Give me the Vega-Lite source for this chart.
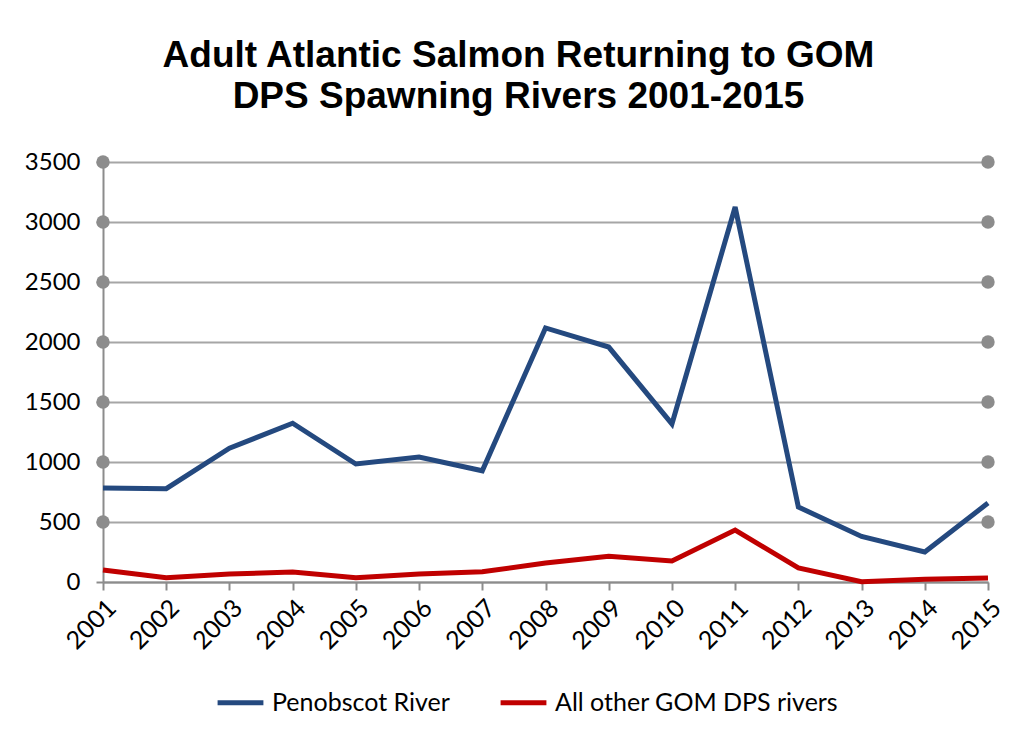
{
  "$schema": "https://vega.github.io/schema/vega-lite/v6.json",
  "autosize": {"type": "none"},
  "width": 885,
  "height": 420,
  "padding": {"left": 103, "top": 162, "right": 27, "bottom": 156},
  "background": "white",
  "config": {
    "view": {"stroke": null},
    "font": "Lato"
  },
  "title": {
    "text": ["Adult Atlantic Salmon Returning to GOM", "DPS Spawning Rivers 2001-2015"],
    "font": "Liberation Sans",
    "fontSize": 37,
    "fontWeight": "bold",
    "color": "#000000",
    "lineHeight": 41,
    "anchor": "middle",
    "dx": -27,
    "offset": 34
  },
  "datasets": {
    "salmon": [
      {"year": 2001, "series": "Penobscot River", "returns": 783},
      {"year": 2002, "series": "Penobscot River", "returns": 778},
      {"year": 2003, "series": "Penobscot River", "returns": 1115},
      {"year": 2004, "series": "Penobscot River", "returns": 1323},
      {"year": 2005, "series": "Penobscot River", "returns": 983},
      {"year": 2006, "series": "Penobscot River", "returns": 1042},
      {"year": 2007, "series": "Penobscot River", "returns": 927},
      {"year": 2008, "series": "Penobscot River", "returns": 2117},
      {"year": 2009, "series": "Penobscot River", "returns": 1958},
      {"year": 2010, "series": "Penobscot River", "returns": 1317},
      {"year": 2011, "series": "Penobscot River", "returns": 3125},
      {"year": 2012, "series": "Penobscot River", "returns": 625},
      {"year": 2013, "series": "Penobscot River", "returns": 380},
      {"year": 2014, "series": "Penobscot River", "returns": 250},
      {"year": 2015, "series": "Penobscot River", "returns": 658},
      {"year": 2001, "series": "All other GOM DPS rivers", "returns": 100},
      {"year": 2002, "series": "All other GOM DPS rivers", "returns": 35},
      {"year": 2003, "series": "All other GOM DPS rivers", "returns": 67},
      {"year": 2004, "series": "All other GOM DPS rivers", "returns": 83},
      {"year": 2005, "series": "All other GOM DPS rivers", "returns": 35},
      {"year": 2006, "series": "All other GOM DPS rivers", "returns": 67},
      {"year": 2007, "series": "All other GOM DPS rivers", "returns": 85},
      {"year": 2008, "series": "All other GOM DPS rivers", "returns": 158},
      {"year": 2009, "series": "All other GOM DPS rivers", "returns": 215},
      {"year": 2010, "series": "All other GOM DPS rivers", "returns": 175},
      {"year": 2011, "series": "All other GOM DPS rivers", "returns": 433},
      {"year": 2012, "series": "All other GOM DPS rivers", "returns": 117},
      {"year": 2013, "series": "All other GOM DPS rivers", "returns": 3},
      {"year": 2014, "series": "All other GOM DPS rivers", "returns": 22},
      {"year": 2015, "series": "All other GOM DPS rivers", "returns": 33}
    ],
    "gridvals": [
      {"v": 500}, {"v": 1000}, {"v": 1500}, {"v": 2000}, {"v": 2500}, {"v": 3000}, {"v": 3500}
    ]
  },
  "layer": [
    {
      "data": {"name": "salmon"},
      "mark": {"type": "line", "strokeWidth": 5, "strokeJoin": "miter"},
      "encoding": {
        "x": {
          "field": "year", "type": "quantitative",
          "scale": {"domain": [2001, 2015], "nice": false, "zero": false},
          "axis": {
            "title": null, "format": "d", "values": [2001,2002,2003,2004,2005,2006,2007,2008,2009,2010,2011,2012,2013,2014,2015],
            "labelAngle": -45, "labelFontSize": 25, "labelColor": "#000000", "labelFont": "Lato",
            "labelPadding": 5, "tickSize": 8, "tickColor": "#8C8C8C", "tickWidth": 2,
            "domainColor": "#8C8C8C", "domainWidth": 2, "grid": false, "labelOverlap": false
          }
        },
        "y": {
          "field": "returns", "type": "quantitative",
          "scale": {"domain": [0, 3500], "nice": false},
          "axis": {
            "title": null, "format": "d", "values": [0,500,1000,1500,2000,2500,3000,3500],
            "labelFontSize": 24, "labelColor": "#000000", "labelFont": "Lato",
            "labelPadding": 16, "tickSize": 7, "tickColor": "#8C8C8C", "tickWidth": 2,
            "domainColor": "#8C8C8C", "domainWidth": 2,
            "grid": true, "gridColor": "#A6A6A6", "gridWidth": 2
          }
        },
        "color": {
          "field": "series", "type": "nominal",
          "scale": {"domain": ["Penobscot River", "All other GOM DPS rivers"], "range": ["#24497F", "#C00000"]},
          "legend": {
            "title": null, "orient": "none", "direction": "horizontal",
            "legendX": 112, "legendY": 515,
            "symbolType": "stroke", "symbolStrokeWidth": 5, "symbolSize": 2100,
            "labelFontSize": 25, "labelFont": "Lato", "labelColor": "#000000",
            "labelOffset": 6, "columnPadding": 40, "labelLimit": 400
          }
        }
      }
    },
    {
      "data": {"name": "gridvals"},
      "mark": {"type": "point", "filled": true, "color": "#8C8C8C", "size": 180, "opacity": 1},
      "encoding": {
        "x": {"datum": 2001, "type": "quantitative"},
        "y": {"field": "v", "type": "quantitative"}
      }
    },
    {
      "data": {"name": "gridvals"},
      "mark": {"type": "point", "filled": true, "color": "#8C8C8C", "size": 180, "opacity": 1},
      "encoding": {
        "x": {"datum": 2015, "type": "quantitative"},
        "y": {"field": "v", "type": "quantitative"}
      }
    }
  ]
}
